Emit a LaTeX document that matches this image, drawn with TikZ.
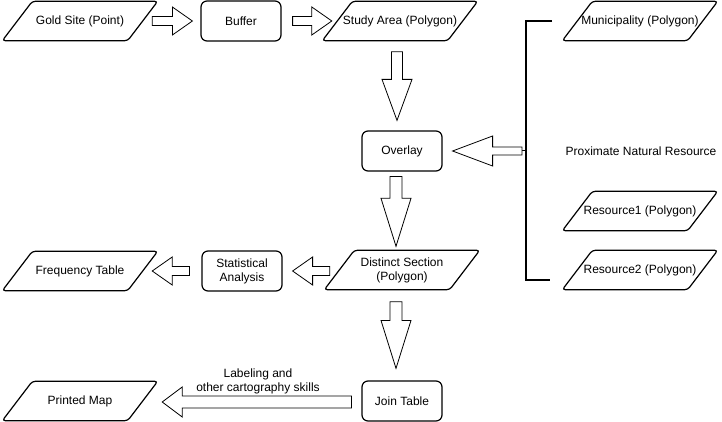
\documentclass[tikz,border=0pt]{standalone}
\usepackage{fontspec}
\setmainfont{Liberation Sans}
\usepackage{tikz}
\usetikzlibrary{calc}
\tikzstyle{blockarrow} = [draw, line width=0.8pt, line join=miter, fill=white]
\tikzset{ba shaft/.store in=\bashaft, ba head/.store in=\bahead, ba len/.store in=\balen,
	ba shaft=4.5pt, ba head=14pt, ba len=20pt}
% hollow block arrow from tail #2 to tip #3
\newcommand{\blockarrow}[3][]{%
	\begin{scope}[#1]
	\coordinate (neck) at ($(#3)!\balen!(#2)$);
	\draw[blockarrow] ($(#2)!\bashaft!90:(#3)$) -- ($(neck)!\bashaft!-90:(#2)$)
		-- ($(neck)!\bahead!-90:(#2)$) -- (#3) -- ($(neck)!\bahead!90:(#2)$)
		-- ($(neck)!\bashaft!90:(#2)$) -- ($(#2)!\bashaft!-90:(#3)$) -- cycle;
	\end{scope}}

\begin{document}
\begin{tikzpicture}
	[x=1pt, y=-1pt, font=\fontsize{12pt}{14pt}\selectfont,
	procbox/.style={draw, line width=1.2pt, rounded corners=6pt, minimum width=80pt, minimum height=40pt, align=center, inner sep=1pt},
	databox/.style={minimum width=155pt, minimum height=39pt, align=center, inner sep=1pt,
		append after command={\pgfextra{\draw[line width=1.2pt, rounded corners=3pt]
			(\tikzlastnode.south west) -- ([xshift=30pt]\tikzlastnode.north west)
			-- (\tikzlastnode.north east) -- ([xshift=-30pt]\tikzlastnode.south east) -- cycle;}}},
	bracket/.style={line width=1.6pt}]
	\useasboundingbox (0,0) rectangle (722,422);

	% top row
	\node (gold) [databox] at (80,21) {Gold Site (Point)};
	\node (buffer) [procbox] at (241,21) {Buffer};
	\node (study) [databox] at (400,21) {Study Area (Polygon)};

	% middle column
	\node (overlay) [procbox] at (402,151) {Overlay};
	\node (distinct) [databox] at (402,270) {Distinct Section\\(Polygon)};
	\node (stats) [procbox] at (242,271) {Statistical\\Analysis};
	\node (freq) [databox] at (80,271) {Frequency Table};
	\node (jointab) [procbox] at (402,401) {Join Table};
	\node (printed) [databox] at (80,401) {Printed Map};
	\node (skills) [align=center] at (258,381) {Labeling and\\other cartography skills};

	% natural resources
	\node (munic) [databox] at (640,21) {Municipality (Polygon)};
	\node (prox) at (641,151) {Proximate Natural Resource};
	\node (res1) [databox] at (640,211) {Resource1 (Polygon)};
	\node (res2) [databox] at (640,270) {Resource2 (Polygon)};

	\coordinate (brtop) at (552,21);
	\coordinate (brbot) at (550,280);
	\coordinate (brmid) at (526,151);
	\draw[bracket] (brtop) -- (526,21) -- (526,280) -- (brbot);

	% block arrows
	\coordinate (gb-t) at ($(gold.east)+(-5.5,0)$);
	\coordinate (gb-h) at ($(buffer.west)+(-8,0)$);
	\blockarrow{gb-t}{gb-h}
	\coordinate (bs-t) at ($(buffer.east)+(11,0)$);
	\coordinate (bs-h) at ($(study.west)+(9.5,0)$);
	\blockarrow{bs-t}{bs-h}
	\coordinate (so-h) at ($(overlay.north)+(-5,-10)$);
	\coordinate (so-t) at (so-h |- {$(study.south)+(0,11)$});
	\blockarrow[ba shaft=5.5pt, ba head=15pt, ba len=41pt]{so-t}{so-h}
	\coordinate (ro-t) at ($(brmid)+(-4,0)$);
	\coordinate (ro-h) at ($(overlay.east)+(10,0)$);
	\draw[line width=1pt] (ro-t) -- (brmid);
	\blockarrow[ba shaft=4pt, ba head=15pt, ba len=40pt]{ro-t}{ro-h}
	\coordinate (od-t) at ($(overlay.south)+(-6,5)$);
	\coordinate (od-h) at (od-t |- {$(distinct.north)+(0,-4)$});
	\blockarrow[ba shaft=6pt, ba head=15pt, ba len=48pt]{od-t}{od-h}
	\coordinate (ds-t) at ($(distinct.west)+(5.5,1)$);
	\coordinate (ds-h) at ($(stats.east)+(10,0)$);
	\blockarrow{ds-t}{ds-h}
	\coordinate (sf-t) at ($(stats.west)+(-12,0)$);
	\coordinate (sf-h) at ($(freq.east)+(-5.5,0)$);
	\blockarrow{sf-t}{sf-h}
	\coordinate (dj-t) at ($(distinct.south)+(-6,12)$);
	\coordinate (dj-h) at (dj-t |- {$(jointab.north)+(0,-12)$});
	\blockarrow[ba shaft=6pt, ba head=15pt, ba len=48pt]{dj-t}{dj-h}
	\coordinate (jp-t) at ($(jointab.west)+(-10,1)$);
	\coordinate (jp-h) at ($(printed.east)+(4.5,1)$);
	\blockarrow[ba shaft=6pt, ba head=15pt, ba len=20pt]{jp-t}{jp-h}
\end{tikzpicture}
\end{document}
